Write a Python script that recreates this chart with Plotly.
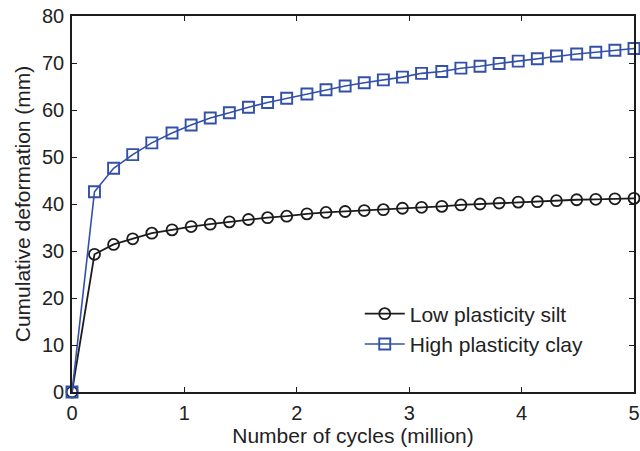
import plotly.graph_objects as go

# Number of load cycles (million)
cycles = [0, 0.20, 0.37, 0.54, 0.71, 0.89, 1.06, 1.23, 1.40, 1.57, 1.74,
          1.91, 2.09, 2.26, 2.43, 2.60, 2.77, 2.94, 3.11, 3.29, 3.46,
          3.63, 3.80, 3.97, 4.14, 4.31, 4.49, 4.66, 4.83, 5.00]

# Cumulative deformation (mm)
silt = [0, 29.3, 31.4, 32.6, 33.8, 34.5, 35.2, 35.7, 36.2, 36.7, 37.1,
        37.4, 37.9, 38.2, 38.4, 38.6, 38.8, 39.1, 39.3, 39.5, 39.8,
        40.0, 40.2, 40.4, 40.5, 40.7, 40.9, 41.0, 41.1, 41.2]
clay = [0, 42.6, 47.6, 50.5, 53.0, 55.1, 56.8, 58.3, 59.4, 60.6, 61.6,
        62.5, 63.4, 64.3, 65.1, 65.8, 66.4, 67.0, 67.8, 68.2, 68.9,
        69.3, 69.9, 70.4, 70.9, 71.5, 71.9, 72.3, 72.7, 73.1]

x_ticks = [0, 1, 2, 3, 4, 5]
y_ticks = [0, 10, 20, 30, 40, 50, 60, 70, 80]

black = "#1c1c1c"
blue = "#3350a8"
font = "Liberation Sans, Arial, sans-serif"
fsize = 21

fig = go.Figure()
fig.add_trace(go.Scatter(
    x=cycles, y=silt, name="Low plasticity silt", mode="lines+markers",
    line=dict(color=black, width=1.8),
    marker=dict(symbol="circle-open", size=11, color=black, line=dict(width=1.8)),
    cliponaxis=False,
))
fig.add_trace(go.Scatter(
    x=cycles, y=clay, name="High plasticity clay", mode="lines+markers",
    line=dict(color=blue, width=1.6),
    marker=dict(symbol="square-open", size=11, color=blue, line=dict(width=1.9)),
    cliponaxis=False,
))

axis_common = dict(
    showline=True, mirror="ticks", linecolor=black, linewidth=1.6,
    ticks="inside", ticklen=5, tickwidth=1.2, tickcolor=black,
    showgrid=False, zeroline=False, automargin=False,
    ticklabeloverflow="allow",
    tickfont=dict(family=font, size=20, color="#222222"),
)

fig.update_layout(
    width=640, height=451,
    margin=dict(l=72, r=6, t=16, b=59),
    paper_bgcolor="white", plot_bgcolor="white",
    font=dict(family=font, size=fsize, color="#222222"),
    xaxis=dict(range=[0, 5], tickvals=x_ticks, ticklabelstandoff=2,
               title=dict(text="Number of cycles (million)", standoff=3,
                          font=dict(family=font, size=fsize)),
               **axis_common),
    yaxis=dict(range=[0, 80], tickvals=y_ticks, ticklabelstandoff=2,
               title=dict(text="Cumulative deformation (mm)", standoff=6,
                          font=dict(family=font, size=fsize)),
               **axis_common),
    legend=dict(x=0.512, y=0.262, xanchor="left", yanchor="top",
                bgcolor="rgba(255,255,255,0)", borderwidth=0,
                font=dict(family=font, size=fsize, color="#222222"),
                itemwidth=40, tracegroupgap=0),
    showlegend=True,
)

fig.write_html("out.html")
